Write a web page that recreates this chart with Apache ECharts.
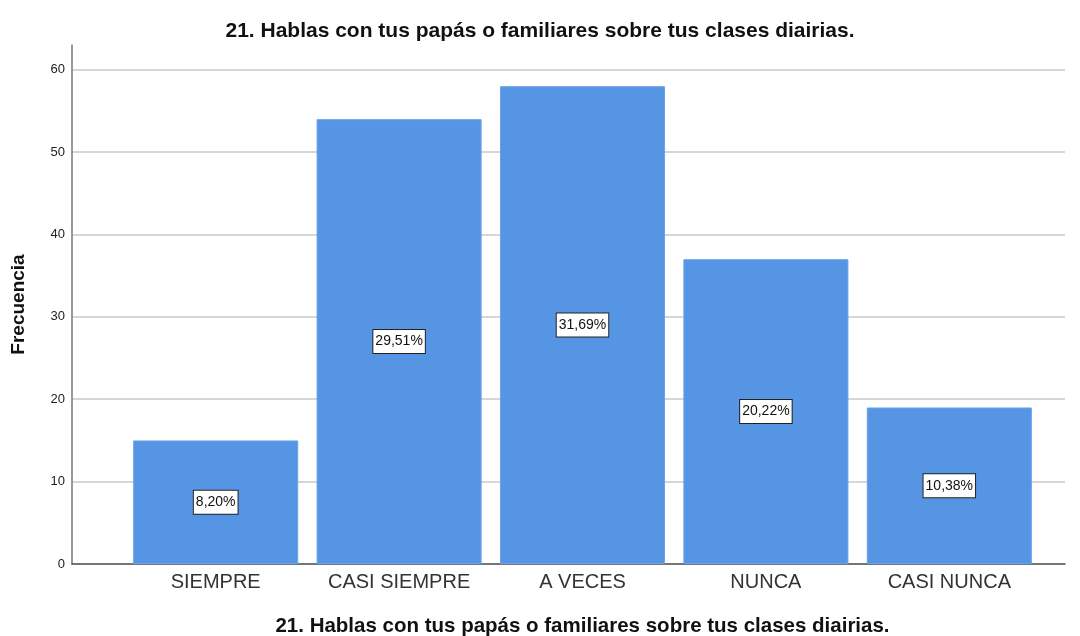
<!DOCTYPE html>
<html>
<head>
<meta charset="utf-8">
<script src="https://cdn.jsdelivr.net/npm/echarts@6/dist/echarts.min.js"></script>
<style>
  html, body { margin: 0; padding: 0; background: #fff; }
  #chart { width: 1080px; height: 636px; }
</style>
</head>
<body>
<div id="chart"></div>
<script>
var titulo = '21. Hablas con tus papás o familiares sobre tus clases diairias.';
var categorias = ['SIEMPRE', 'CASI SIEMPRE', 'A VECES', 'NUNCA', 'CASI NUNCA'];
var frecuencias = [15, 54, 58, 37, 19];
var porcentajes = ['8,20%', '29,51%', '31,69%', '20,22%', '10,38%'];

var chart = echarts.init(document.getElementById('chart'));
var fuente = '"Liberation Sans", Arial, sans-serif';

var option = {
    animation: false,
    title: {
        text: titulo,
        left: 'center',
        top: 16,
        textStyle: { fontFamily: fuente, fontSize: 21, fontWeight: 'bold', color: '#111' }
    },
    grid: [
        // grid de las barras
        { left: 124, right: 39, top: 45, bottom: 72, outerBoundsMode: 'none', containLabel: false },
        // grid del marco (ejes y lineas)
        { left: 72, right: 15, top: 45, bottom: 72, outerBoundsMode: 'none', containLabel: false }
    ],
    xAxis: [
        {
            gridIndex: 0,
            type: 'category',
            data: categorias,
            axisLine: { show: false },
            axisTick: { show: false },
            axisLabel: { interval: 0, fontFamily: fuente, fontSize: 20, color: '#333', margin: 8 },
            name: titulo,
            nameLocation: 'middle',
            nameGap: 52,
            nameTextStyle: { fontFamily: fuente, fontSize: 20.5, fontWeight: 'bold', color: '#111' }
        },
        {
            gridIndex: 1,
            type: 'value',
            min: 0,
            max: 1,
            axisLine: { show: true, lineStyle: { color: '#555', width: 1.5 } },
            axisTick: { show: false },
            axisLabel: { show: false },
            splitLine: { show: false }
        }
    ],
    yAxis: [
        {
            gridIndex: 0,
            type: 'value',
            min: 0,
            max: 63,
            show: false
        },
        {
            gridIndex: 1,
            type: 'value',
            min: 0,
            max: 63,
            interval: 10,
            axisLine: { show: true, lineStyle: { color: '#777', width: 1.5 } },
            axisTick: { show: false },
            axisLabel: { fontFamily: fuente, fontSize: 13, color: '#222', margin: 7, showMaxLabel: false },
            splitLine: { show: true, showMaxLine: false, lineStyle: { color: '#c8c8c8', width: 1.5 } },
            name: 'Frecuencia',
            nameLocation: 'middle',
            nameGap: 44,
            nameTextStyle: { fontFamily: fuente, fontSize: 19, fontWeight: 'bold', color: '#111' }
        }
    ],
    series: [{
        type: 'bar',
        xAxisIndex: 0,
        yAxisIndex: 0,
        data: frecuencias,
        barCategoryGap: '10%',
        itemStyle: { color: '#5595e4', borderColor: '#6aa3ea', borderWidth: 1 },
        label: {
            show: true,
            position: 'inside',
            formatter: function (p) { return porcentajes[p.dataIndex]; },
            fontFamily: fuente,
            fontSize: 14,
            color: '#111',
            backgroundColor: '#fff',
            borderColor: '#222',
            borderWidth: 1,
            padding: [5, 2, 4, 2]
        }
    }]
};

chart.setOption(option);
</script>
</body>
</html>
